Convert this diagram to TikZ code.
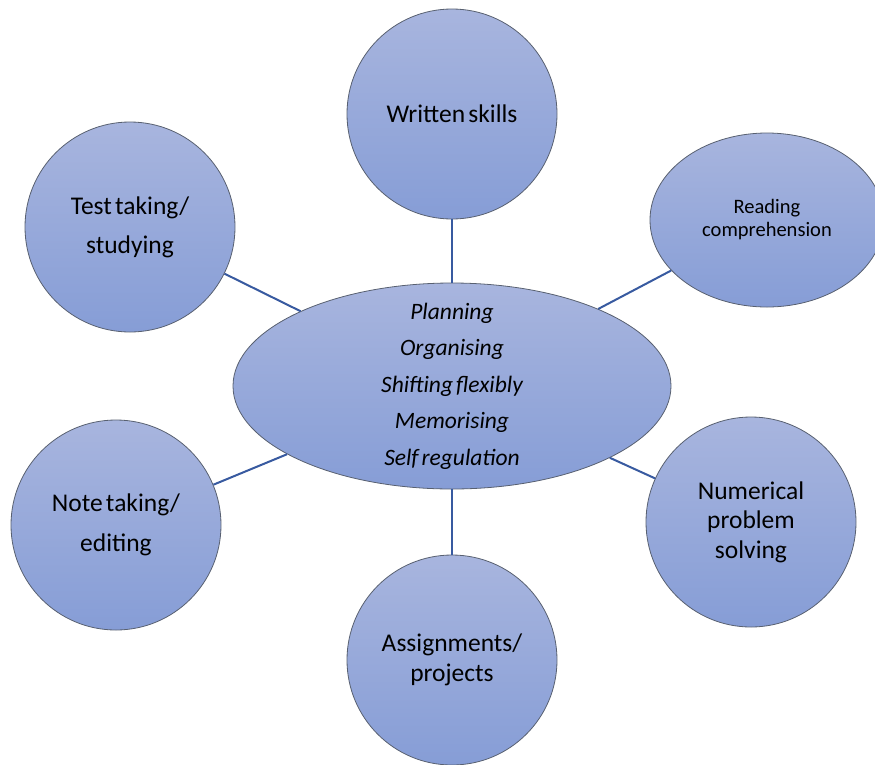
\documentclass[tikz,border=0pt]{standalone}
\usepackage{fontspec}
\setmainfont{Carlito}[WordSpace=0.55]
\usetikzlibrary{shapes.geometric}
\definecolor{bubbletop}{RGB}{168,181,222}
\definecolor{bubblebot}{RGB}{134,157,214}
\definecolor{rim}{RGB}{88,96,112}
\definecolor{linkblue}{RGB}{56,90,160}
\begin{document}
\begin{tikzpicture}[x=1pt,y=-1pt,
  bubble/.style={ellipse, draw=rim, line width=0.8pt,
    top color=bubbletop, bottom color=bubblebot,
    inner sep=0pt, align=center},
  disc/.style={bubble, minimum width=210pt, minimum height=210pt},
  spoke/.style={draw=linkblue, line width=2pt}]
\useasboundingbox (0,0) rectangle (875,764);

% central executive functions
\node[bubble, minimum width=438pt, minimum height=206pt] (core) at (452,386) {};
\node[align=center, inner sep=0pt,
      font=\fontsize{23.5}{36.5}\selectfont\itshape] (coretext) at (core.center)
  {Planning\\Organising\\Shifting flexibly\\Memorising\\Self regulation};

% surrounding study activities
\node[disc, font=\fontsize{25.5}{39}\selectfont] (written) at (452,114) {Written skills};
\node[disc, font=\fontsize{25.5}{39}\selectfont] (test) at (130,227) {Test taking/\\studying};
\node[bubble, minimum width=234pt, minimum height=174pt,
      font=\fontsize{20.5}{23}\selectfont] (reading) at (767,220) {Reading\\comprehension};
\node[disc, font=\fontsize{25.5}{40}\selectfont] (note) at (116,525) {Note taking/\\editing};
\node[disc, font=\fontsize{25.5}{29.5}\selectfont] (numeric) at (751,522) {Numerical\\problem\\solving};
\node[disc, font=\fontsize{25.5}{30}\selectfont] (assign) at (452,660) {Assignments/\\projects};

% spokes
\draw[spoke] (written) -- (core);
\draw[spoke] (test) -- (core);
\draw[spoke] (reading) -- (core);
\draw[spoke] (note) -- (core);
\draw[spoke] (numeric) -- (core);
\draw[spoke] (assign) -- (core);
\end{tikzpicture}
\end{document}
